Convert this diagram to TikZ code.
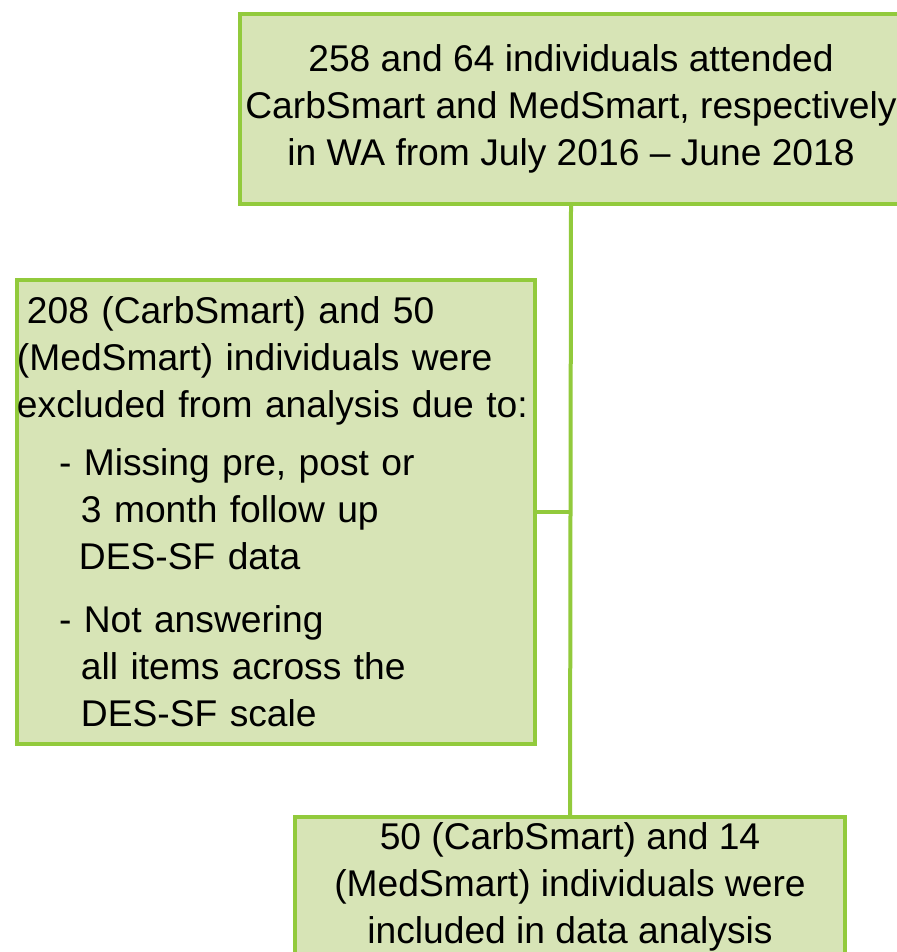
\documentclass[tikz,border=0pt]{standalone}
\usepackage{fontspec}
\setmainfont{Liberation Sans}
\definecolor{vertclair}{RGB}{215,228,182}
\definecolor{vertbord}{RGB}{146,202,60}
\tikzset{
    % Define style for boxes
    boite/.style={
           rectangle,
           draw=vertbord, line width=2pt,
           fill=vertclair,
           inner sep=1pt,
           font=\fontsize{18.6}{23.5}\selectfont},
    % Define line style
    lien/.style={
           draw=vertbord,
           line width=2pt}
}

\begin{document}
\begin{tikzpicture}[x=0.5pt, y=-0.5pt]
	\useasboundingbox (0,0) rectangle (897,952);
	%
	% noeuds
	%
	\node[boite, anchor=north west, minimum width=331pt, minimum height=95pt, align=center]
		(debut) at (238,12) {258 and 64 individuals attended\\CarbSmart and MedSmart, respectively\\in WA from July 2016 \textendash{} June 2018};
	\node[boite, anchor=north west, text width=259pt, inner xsep=0pt, minimum height=232pt, align=left]
		(exclus) at (15,278) {\hspace*{5pt}208 (CarbSmart) and 50\\
		(MedSmart) individuals were\\
		excluded from analysis due to:\\[5.5pt]
		\hspace*{21pt}- Missing pre, post or\\
		\hspace*{32pt}3 month follow up\\
		\hspace*{31pt}DES-SF data\\[8pt]
		\hspace*{21pt}- Not answering\\
		\hspace*{32pt}all items across the\\
		\hspace*{32pt}DES-SF scale};
	\node[boite, anchor=north, minimum width=275pt, minimum height=70pt, align=center]
		(inclus) at (570,815) {50 (CarbSmart) and 14\\(MedSmart) individuals were\\included in data analysis};
	%
	% Liens
	%
	\draw[lien] (debut.south) -- (inclus.north);
	\draw[lien] (exclus.east) -- (exclus.east -| debut.south);
\end{tikzpicture}
\end{document}
